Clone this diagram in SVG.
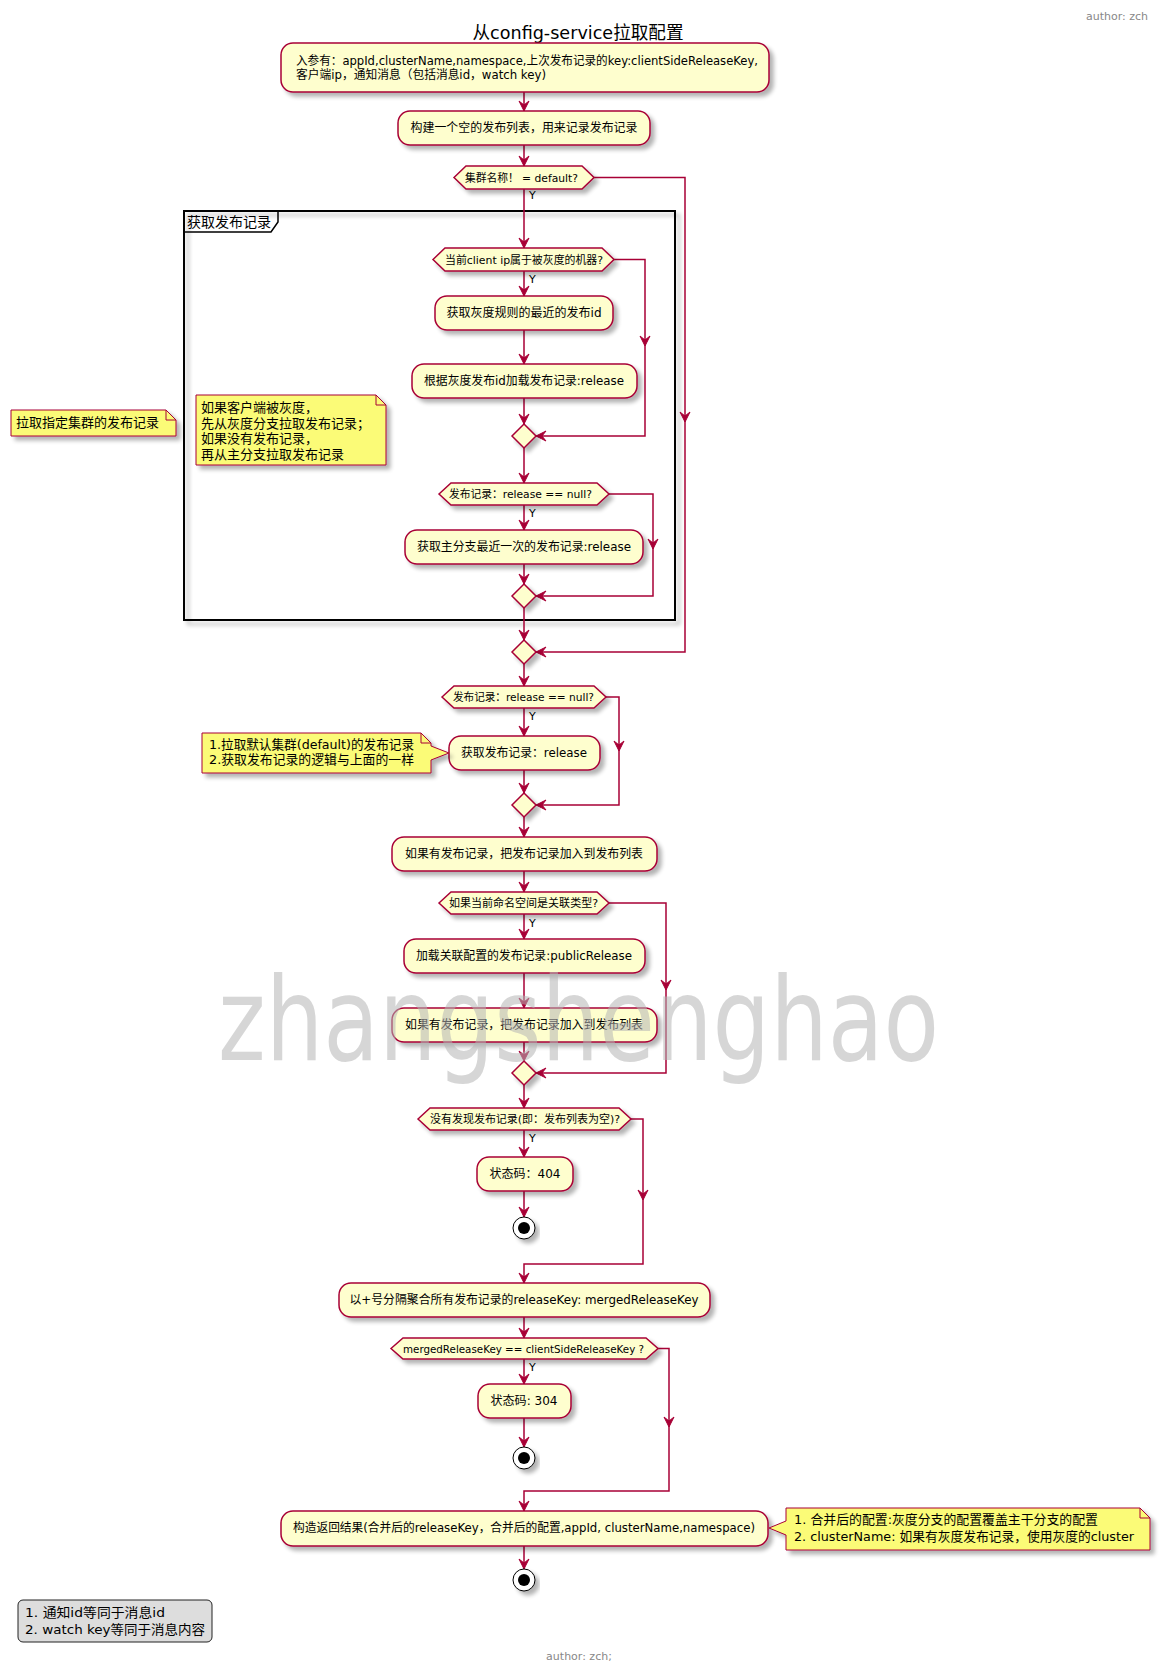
<svg xmlns="http://www.w3.org/2000/svg" width="1161" height="1673" viewBox="0 0 1161 1673">
<defs>
<filter id="sh" x="-10%" y="-20%" width="130%" height="160%">
<feGaussianBlur in="SourceAlpha" stdDeviation="2"/>
<feOffset dx="4" dy="4" result="o"/>
<feComponentTransfer><feFuncA type="linear" slope="0.3"/></feComponentTransfer>
<feMerge><feMergeNode/><feMergeNode in="SourceGraphic"/></feMerge>
</filter>
<path id="ad" d="M0,0 L-5,-10 L0,-6 L5,-10 Z"/>
<path id="al" d="M0,0 L10,-5 L6,0 L10,5 Z"/>
</defs>
<style>
.t{font-family:"DejaVu Sans","Noto Sans CJK SC",sans-serif;font-size:12px;fill:#000}
.s11{font-size:11px}
.s13{font-size:13px}
.m{text-anchor:middle}
.box{fill:#FEFECE;stroke:#A80036;stroke-width:1.5;filter:url(#sh)}
.note{fill:#FBFB77;stroke:#A80036;stroke-width:1;filter:url(#sh)}
.fold{fill:none;stroke:#A80036;stroke-width:1}
.ln{fill:none;stroke:#A80036;stroke-width:1.5}
.ah{fill:#A80036;stroke:#A80036;stroke-width:1}
.gray{fill:#888;font-size:11px}
</style>
<rect width="1161" height="1673" fill="#fff"/>
<text class="t gray" x="1148" y="20" text-anchor="end">author: zch</text>
<text class="t m" x="578" y="39" style="font-size:18px" textLength="211" lengthAdjust="spacingAndGlyphs">从config-service拉取配置</text>

<g id="frame">
<rect x="184" y="211" width="491" height="409" fill="none" stroke="#000" stroke-width="2" filter="url(#sh)"/>
<path d="M184,232 L271,232 L278,222 L278,211" fill="none" stroke="#000" stroke-width="1.5"/>
<text class="t" x="187" y="227" style="font-size:14px">获取发布记录</text>
</g>

<g id="connectors">
<path class="ln" d="M524,92 V111 M524,145 V166 M524,189 V248 M524,271 V296 M524,330 V364 M524,398 V424 M524,448 V483 M524,505 V530 M524,564 V584 M524,608 V640 M524,664 V686 M524,707 V736 M524,770 V793 M524,817 V837 M524,871 V892 M524,914 V939 M524,973 V1008 M524,1042 V1061 M524,1085 V1108 M524,1130 V1157 M524,1191 V1217 M524,1317 V1338 M524,1359 V1384 M524,1418 V1447 M524,1546 V1569"/>
<path class="ln" d="M594,177.5 H685 V652 H536"/>
<path class="ln" d="M614,259.5 H645 V436 H536"/>
<path class="ln" d="M609,494 H653 V596 H536"/>
<path class="ln" d="M606,697 H619 V805 H536"/>
<path class="ln" d="M609,903 H666 V1073 H536"/>
<path class="ln" d="M631,1119 H643 V1264 H524 V1283"/>
<path class="ln" d="M658,1348.5 H669 V1491 H524 V1511"/>
<use href="#ad" class="ah" x="524" y="111"/>
<use href="#ad" class="ah" x="524" y="166"/>
<use href="#ad" class="ah" x="524" y="248"/>
<use href="#ad" class="ah" x="524" y="296"/>
<use href="#ad" class="ah" x="524" y="364"/>
<use href="#ad" class="ah" x="524" y="424"/>
<use href="#ad" class="ah" x="524" y="483"/>
<use href="#ad" class="ah" x="524" y="530"/>
<use href="#ad" class="ah" x="524" y="584"/>
<use href="#ad" class="ah" x="524" y="640"/>
<use href="#ad" class="ah" x="524" y="686"/>
<use href="#ad" class="ah" x="524" y="736"/>
<use href="#ad" class="ah" x="524" y="793"/>
<use href="#ad" class="ah" x="524" y="837"/>
<use href="#ad" class="ah" x="524" y="892"/>
<use href="#ad" class="ah" x="524" y="939"/>
<use href="#ad" class="ah" x="524" y="1008"/>
<use href="#ad" class="ah" x="524" y="1061"/>
<use href="#ad" class="ah" x="524" y="1108"/>
<use href="#ad" class="ah" x="524" y="1157"/>
<use href="#ad" class="ah" x="524" y="1217"/>
<use href="#ad" class="ah" x="524" y="1283"/>
<use href="#ad" class="ah" x="524" y="1338"/>
<use href="#ad" class="ah" x="524" y="1384"/>
<use href="#ad" class="ah" x="524" y="1447"/>
<use href="#ad" class="ah" x="524" y="1511"/>
<use href="#ad" class="ah" x="524" y="1569"/>
<use href="#ad" class="ah" x="685" y="422"/>
<use href="#ad" class="ah" x="645" y="346"/>
<use href="#ad" class="ah" x="653" y="549"/>
<use href="#ad" class="ah" x="619" y="751"/>
<use href="#ad" class="ah" x="666" y="990"/>
<use href="#ad" class="ah" x="643" y="1200"/>
<use href="#ad" class="ah" x="669" y="1427"/>
<use href="#al" class="ah" x="536" y="652"/>
<use href="#al" class="ah" x="536" y="436"/>
<use href="#al" class="ah" x="536" y="596"/>
<use href="#al" class="ah" x="536" y="805"/>
<use href="#al" class="ah" x="536" y="1073"/>
<text class="t s11" x="529" y="199">Y</text>
<text class="t s11" x="529" y="283">Y</text>
<text class="t s11" x="529" y="517">Y</text>
<text class="t s11" x="529" y="720">Y</text>
<text class="t s11" x="529" y="927">Y</text>
<text class="t s11" x="529" y="1142">Y</text>
<text class="t s11" x="529" y="1371">Y</text>
</g>

<g id="nodeA"><rect class="box" x="281" y="43" width="488" height="49" rx="12"/>
<text class="t" x="296" y="65" textLength="462" lengthAdjust="spacingAndGlyphs">入参有：appId,clusterName,namespace,上次发布记录的key:clientSideReleaseKey,</text>
<text class="t" x="296" y="79" textLength="250" lengthAdjust="spacingAndGlyphs">客户端ip，通知消息（包括消息id，watch key)</text></g>
<g id="nodeB"><rect class="box" x="398" y="111" width="252" height="34" rx="12"/>
<text class="t m" x="524" y="132" textLength="227" lengthAdjust="spacingAndGlyphs">构建一个空的发布列表，用来记录发布记录</text></g>
<g id="dec1"><polygon class="box" points="454,177.5 466,166 582,166 594,177.5 582,189 466,189"/>
<text class="t s11" x="465" y="181.5" textLength="113" lengthAdjust="spacingAndGlyphs">集群名称！ = default?</text></g>
<g id="dec2"><polygon class="box" points="433,259.5 445,248 602,248 614,259.5 602,271 445,271"/>
<text class="t s11" x="445" y="263.5" textLength="158" lengthAdjust="spacingAndGlyphs">当前client ip属于被灰度的机器?</text></g>
<g id="nodeC"><rect class="box" x="435" y="296" width="178" height="34" rx="12"/>
<text class="t m" x="524" y="317" textLength="155" lengthAdjust="spacingAndGlyphs">获取灰度规则的最近的发布id</text></g>
<g id="nodeD"><rect class="box" x="412" y="364" width="225" height="34" rx="12"/>
<text class="t m" x="524" y="385" textLength="200" lengthAdjust="spacingAndGlyphs">根据灰度发布id加载发布记录:release</text></g>
<g id="merge1"><polygon class="box" points="524,424 536,436 524,448 512,436"/></g>
<g id="dec3"><polygon class="box" points="439,494 451,483 597,483 609,494 597,505 451,505"/>
<text class="t s11" x="449" y="498" textLength="143" lengthAdjust="spacingAndGlyphs">发布记录：release == null?</text></g>
<g id="nodeE"><rect class="box" x="405" y="530" width="238" height="34" rx="12"/>
<text class="t m" x="524" y="551" textLength="214" lengthAdjust="spacingAndGlyphs">获取主分支最近一次的发布记录:release</text></g>
<g id="merge2"><polygon class="box" points="524,584 536,596 524,608 512,596"/></g>
<g id="merge3"><polygon class="box" points="524,640 536,652 524,664 512,652"/></g>
<g id="note1"><path class="note" d="M11,410 L166,410 L176,420 L176,436 L11,436 Z"/><path class="fold" d="M166,410 L166,420 L176,420"/>
<text class="t s13" x="16" y="427">拉取指定集群的发布记录</text></g>
<g id="note2"><path class="note" d="M196,395 L376,395 L386,405 L386,465 L196,465 Z"/><path class="fold" d="M376,395 L376,405 L386,405"/>
<text class="t s13" x="201" y="412">如果客户端被灰度，</text>
<text class="t s13" x="201" y="427.5">先从灰度分支拉取发布记录；</text>
<text class="t s13" x="201" y="443">如果没有发布记录，</text>
<text class="t s13" x="201" y="458.5">再从主分支拉取发布记录</text></g>
<g id="dec4"><polygon class="box" points="442,697 454,686 594,686 606,697 594,708 454,708"/>
<text class="t s11" x="453" y="701" textLength="141" lengthAdjust="spacingAndGlyphs">发布记录：release == null?</text></g>
<g id="nodeF"><rect class="box" x="449" y="736" width="151" height="34" rx="12"/>
<text class="t m" x="524" y="757" textLength="126" lengthAdjust="spacingAndGlyphs">获取发布记录：release</text></g>
<g id="note3"><path class="note" d="M202,733 L421,733 L431,743 L431,746 L449,753 L431,760 L431,773 L202,773 Z"/><path class="fold" d="M421,733 L421,743 L431,743"/>
<text class="t s13" x="209" y="749" textLength="205" lengthAdjust="spacingAndGlyphs">1.拉取默认集群(default)的发布记录</text>
<text class="t s13" x="209" y="764" textLength="205" lengthAdjust="spacingAndGlyphs">2.获取发布记录的逻辑与上面的一样</text></g>
<g id="merge4"><polygon class="box" points="524,793 536,805 524,817 512,805"/></g>
<g id="nodeG"><rect class="box" x="392" y="837" width="265" height="34" rx="12"/>
<text class="t m" x="524" y="858" textLength="238" lengthAdjust="spacingAndGlyphs">如果有发布记录，把发布记录加入到发布列表</text></g>
<g id="dec5"><polygon class="box" points="439,903 451,892 597,892 609,903 597,914 451,914"/>
<text class="t s11" x="449" y="907" textLength="149" lengthAdjust="spacingAndGlyphs">如果当前命名空间是关联类型?</text></g>
<g id="nodeH"><rect class="box" x="404" y="939" width="241" height="34" rx="12"/>
<text class="t m" x="524" y="960" textLength="216" lengthAdjust="spacingAndGlyphs">加载关联配置的发布记录:publicRelease</text></g>
<g id="nodeI"><rect class="box" x="392" y="1008" width="265" height="34" rx="12"/>
<text class="t m" x="524" y="1029" textLength="238" lengthAdjust="spacingAndGlyphs">如果有发布记录，把发布记录加入到发布列表</text></g>
<g id="merge5"><polygon class="box" points="524,1061 536,1073 524,1085 512,1073"/></g>
<g id="dec6"><polygon class="box" points="418,1119 430,1108 619,1108 631,1119 619,1130 430,1130"/>
<text class="t s11" x="430" y="1123" textLength="190" lengthAdjust="spacingAndGlyphs">没有发现发布记录(即：发布列表为空)?</text></g>
<g id="nodeK"><rect class="box" x="477" y="1157" width="96" height="34" rx="12"/>
<text class="t m" x="525" y="1178" textLength="71" lengthAdjust="spacingAndGlyphs">状态码：404</text></g>
<g id="stop1"><circle cx="524" cy="1228" r="11" fill="#fff" stroke="#000" stroke-width="1" filter="url(#sh)"/><circle cx="524" cy="1228" r="6" fill="#000"/></g>
<g id="nodeJ"><rect class="box" x="339" y="1283" width="371" height="34" rx="12"/>
<text class="t m" x="524" y="1304" textLength="349" lengthAdjust="spacingAndGlyphs">以+号分隔聚合所有发布记录的releaseKey: mergedReleaseKey</text></g>
<g id="dec7"><polygon class="box" points="391,1348.5 403,1338 646,1338 658,1348.5 646,1359 403,1359"/>
<text class="t s11" x="403" y="1352.5" textLength="241" lengthAdjust="spacingAndGlyphs">mergedReleaseKey == clientSideReleaseKey ?</text></g>
<g id="nodeM"><rect class="box" x="478" y="1384" width="93" height="34" rx="12"/>
<text class="t m" x="524" y="1405" textLength="67" lengthAdjust="spacingAndGlyphs">状态码: 304</text></g>
<g id="stop2"><circle cx="524" cy="1458" r="11" fill="#fff" stroke="#000" stroke-width="1" filter="url(#sh)"/><circle cx="524" cy="1458" r="6" fill="#000"/></g>
<g id="nodeL"><rect class="box" x="281" y="1511" width="487" height="35" rx="12"/>
<text class="t m" x="524" y="1532" textLength="462" lengthAdjust="spacingAndGlyphs">构造返回结果(合并后的releaseKey，合并后的配置,appId, clusterName,namespace)</text></g>
<g id="note4"><path class="note" d="M786,1508 L1140,1508 L1150,1518 L1150,1550 L786,1550 L786,1535 L769,1528 L786,1521 Z"/><path class="fold" d="M1140,1508 L1140,1518 L1150,1518"/>
<text class="t s13" x="794" y="1524" textLength="304" lengthAdjust="spacingAndGlyphs">1. 合并后的配置:灰度分支的配置覆盖主干分支的配置</text>
<text class="t s13" x="794" y="1541" textLength="340" lengthAdjust="spacingAndGlyphs">2. clusterName: 如果有灰度发布记录，使用灰度的cluster</text></g>
<g id="stop3"><circle cx="524" cy="1580" r="11" fill="#fff" stroke="#000" stroke-width="1" filter="url(#sh)"/><circle cx="524" cy="1580" r="6" fill="#000"/></g>
<g id="legend"><rect x="18" y="1600" width="194" height="42" rx="5" fill="#DDDDDD" stroke="#222" stroke-width="1"/>
<text class="t s13" x="25" y="1617" textLength="140" lengthAdjust="spacingAndGlyphs">1. 通知id等同于消息id</text>
<text class="t s13" x="25" y="1634" textLength="180" lengthAdjust="spacingAndGlyphs">2. watch key等同于消息内容</text></g>
<text class="t gray m" x="579" y="1660">author: zch;</text>
<text x="218" y="1060" style="font-family:'DejaVu Sans',sans-serif;font-size:115px" fill="#b4b4b4" fill-opacity="0.55" textLength="721" lengthAdjust="spacingAndGlyphs">zhangshenghao</text>
</svg>
